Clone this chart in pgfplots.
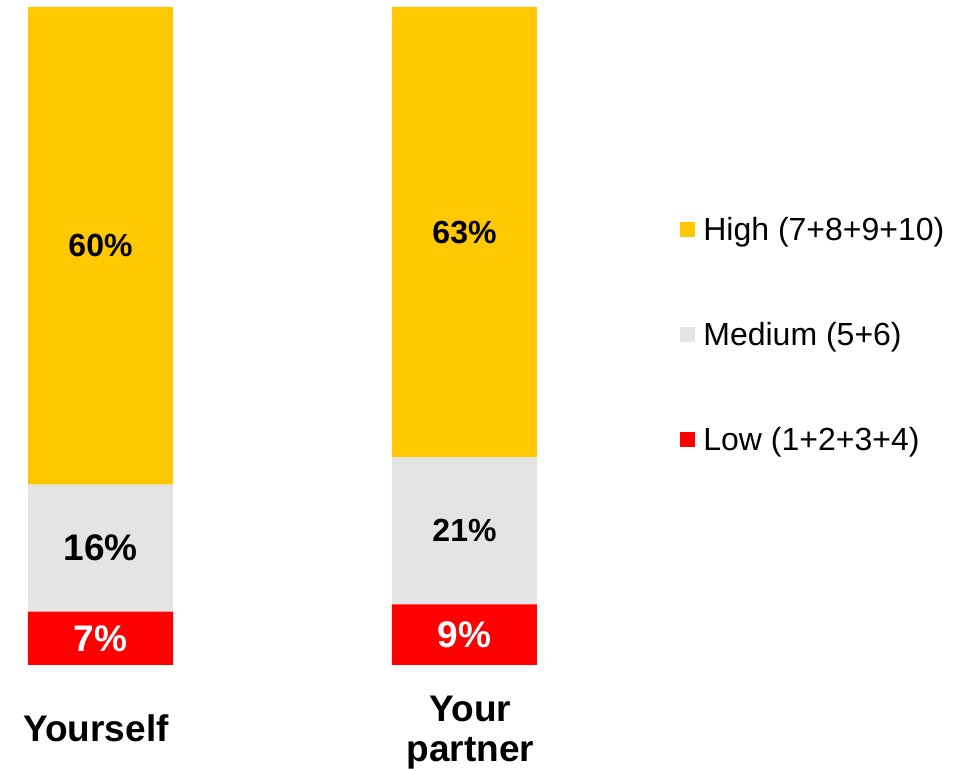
\documentclass[border=0pt]{standalone}
\usepackage{fontspec}
\setmainfont{Liberation Sans}
\usepackage{pgfplots}
\pgfplotsset{compat=1.18}
\definecolor{cHigh}{HTML}{FFC800}
\definecolor{cMed}{HTML}{E4E4E4}
\definecolor{cLow}{HTML}{FF0000}
\pgfplotsset{sqlegend/.style={legend image code/.code={\fill[##1] (0pt,-3.4pt) rectangle (7.5pt,4.1pt);}}}
\begin{document}
\begin{tikzpicture}
\useasboundingbox (0,-52pt) rectangle (483.5pt,332.5pt);
\begin{axis}[
  at={(0,0)}, anchor=south west,
  scale only axis, width=300pt, height=329pt,
  xmin=-0.2761, xmax=1.3723, ymin=0, ymax=100,
  ybar stacked, bar width=72.5pt,
  sqlegend,
  axis line style={draw=none},
  major tick length=0pt,
  ytick=\empty,
  xtick={0,1},
  xticklabels={{Yourself\hspace*{4.5pt}},{\hspace*{6pt}\rule{0pt}{17.5pt}Your\\\hspace*{6pt}partner}},
  xticklabel style={font=\bfseries\fontsize{18.5}{20}\selectfont, align=center, anchor=center, yshift=-31.5pt},
  point meta=explicit,
  nodes near coords={\pgfmathprintnumber[fixed,precision=0,assume math mode=true]{\pgfplotspointmeta}\%},
  visualization depends on={\thisrow{fs} \as \fs},
  every node near coord/.append style={anchor=center, font=\bfseries\fontsize{\fs}{20}\selectfont},
  legend style={at={(1.1333,0.6872)}, anchor=north west, draw=none, fill=none, inner sep=0pt, row sep=35.5pt, column sep=2pt, font=\fontsize{16}{18}\selectfont},
  legend cell align=left,
  reverse legend,
]
\addplot[fill=cLow, draw=none, every node near coord/.append style={text=white}]
  table[x=x, y=y, meta=lab] {
x y lab fs
0 8.1 7 18.5
1 9.2 9 18.5
};
\addlegendentry{Low (1+2+3+4)}
\addplot[fill=cMed, draw=none]
  table[x=x, y=y, meta=lab] {
x y lab fs
0 19.3 16 18.5
1 22.4 21 16
};
\addlegendentry{Medium (5+6)}
\addplot[fill=cHigh, draw=none]
  table[x=x, y=y, meta=lab] {
x y lab fs
0 72.6 60 16
1 68.4 63 16
};
\addlegendentry{High (7+8+9+10)}
\end{axis}
\end{tikzpicture}
\end{document}
